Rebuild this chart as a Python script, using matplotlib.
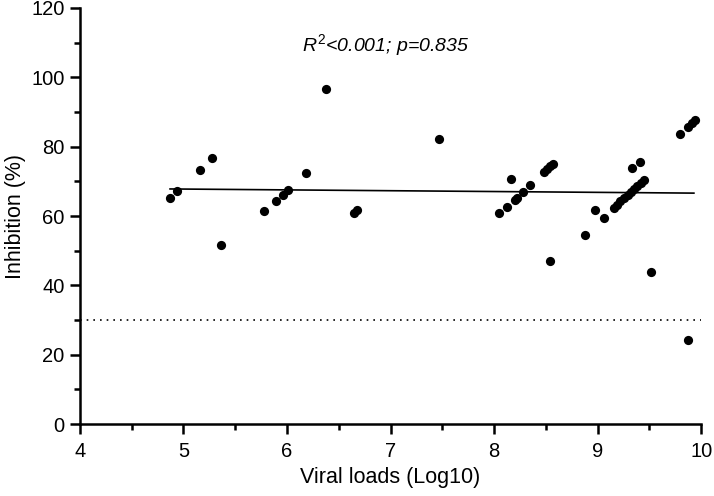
import numpy as np
import matplotlib
matplotlib.use("Agg")
import matplotlib.pyplot as plt
from matplotlib.ticker import MultipleLocator

plt.rcParams['font.family'] = ['Liberation Sans', 'DejaVu Sans']
plt.rcParams['mathtext.fontset'] = 'custom'
plt.rcParams['mathtext.rm'] = 'Liberation Sans'
plt.rcParams['mathtext.it'] = 'Liberation Sans:italic'

# Data
viral_load = [4.87, 4.94, 5.16, 5.28, 5.36, 5.78, 5.89, 5.96, 6.01, 6.18, 6.38,
              6.65, 6.68, 7.47, 8.05, 8.12, 8.16, 8.20, 8.22, 8.28, 8.35,
              8.48, 8.51, 8.54, 8.57, 8.54, 8.88, 8.97, 9.06,
              9.16, 9.19, 9.22, 9.25, 9.29, 9.32, 9.35, 9.38, 9.42, 9.45,
              9.33, 9.41, 9.52, 9.80, 9.87, 9.91, 9.94, 9.87]
inhibition = [65.3, 67.1, 73.4, 76.8, 51.6, 61.3, 64.2, 66.1, 67.5, 72.4, 96.7,
              60.9, 61.8, 82.3, 60.8, 62.7, 70.6, 64.7, 65.2, 67.0, 68.9,
              72.7, 73.5, 74.5, 75.1, 47.1, 54.5, 61.8, 59.3,
              62.3, 63.2, 64.2, 65.2, 66.1, 66.9, 67.8, 68.7, 69.5, 70.4,
              73.8, 75.7, 43.9, 83.7, 85.8, 86.8, 87.6, 24.2]

# Linear fit line and cutoff
fit_x = [4.87, 9.93]
fit_y = [67.8, 66.6]
cutoff = 30
annotation = r'$\mathit{R^{2}}$<0.001; p=0.835'

fig = plt.figure(figsize=(7.14, 4.96), dpi=100)
ax = fig.add_axes([0.112, 0.145, 0.87, 0.839])

ax.scatter(viral_load, inhibition, s=44, color='black', zorder=3, linewidths=0)
ax.plot(fit_x, fit_y, color='black', linewidth=1.2)
ax.axhline(cutoff, color='black', linestyle=(0, (1, 3)), linewidth=1.2)

ax.text(6.95, 109.2, annotation, fontsize=14, style='italic', ha='center', va='center')

ax.set_xlim(4, 10)
ax.set_ylim(0, 120)
ax.xaxis.set_major_locator(MultipleLocator(1))
ax.xaxis.set_minor_locator(MultipleLocator(0.5))
ax.yaxis.set_major_locator(MultipleLocator(20))
ax.yaxis.set_minor_locator(MultipleLocator(10))

for side in ['top', 'right']:
    ax.spines[side].set_visible(False)
for side in ['left', 'bottom']:
    ax.spines[side].set_linewidth(1.8)

ax.tick_params(which='major', length=7, width=1.8, labelsize=14.5, pad=4)
ax.tick_params(which='minor', length=4.5, width=1.8)
ax.tick_params(axis='x', which='major', pad=6)

ax.set_xlabel('Viral loads (Log10)', fontsize=15.5, labelpad=4)
ax.set_ylabel('Inhibition (%)', fontsize=15.5, labelpad=4)

fig.savefig('out.png', dpi=100)
